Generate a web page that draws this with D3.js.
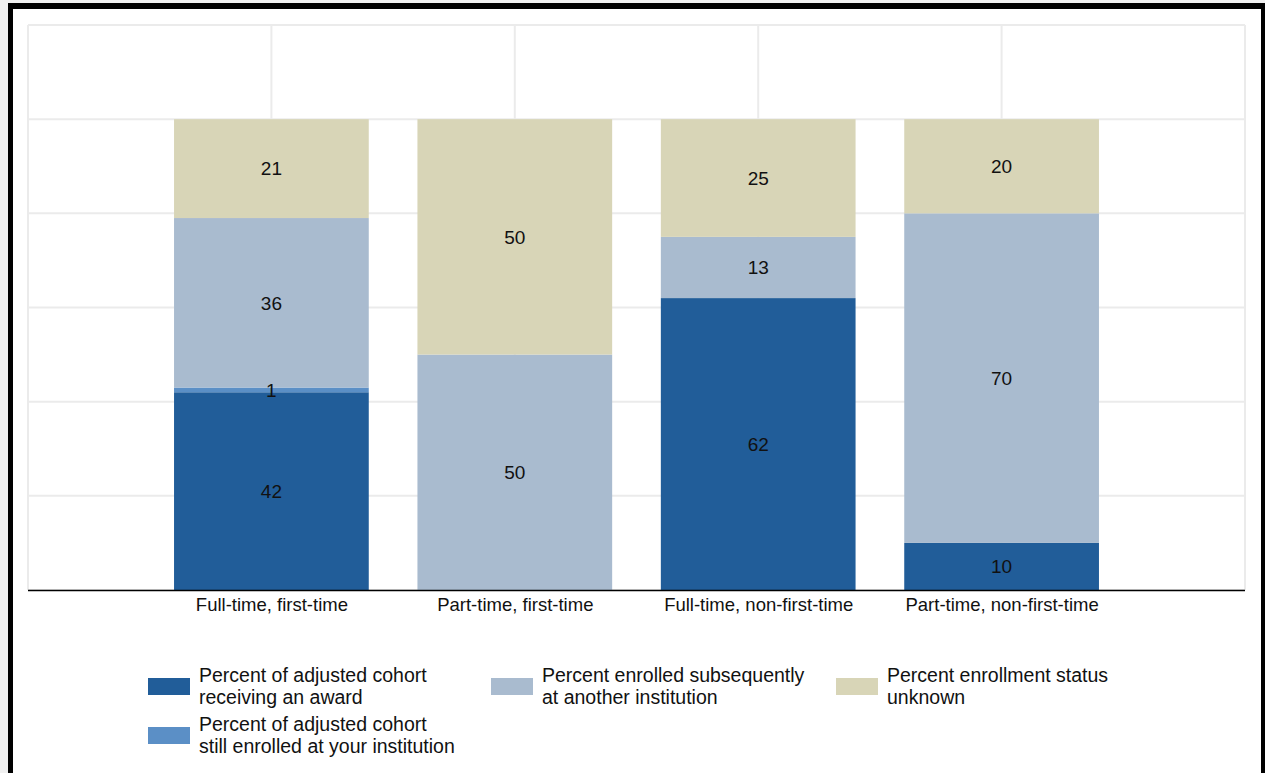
<!DOCTYPE html>
<html>
<head>
<meta charset="utf-8">
<script src="https://cdn.jsdelivr.net/npm/d3@7"></script>
<style>
  html, body {margin: 0; padding: 0; background: #f0f0f0;}
  svg {display: block;}
  text {font-family: "Liberation Sans", Arial, sans-serif; fill: #111;}
</style>
</head>
<body>
<script>
const categories = ['Full-time, first-time', 'Part-time, first-time', 'Full-time, non-first-time', 'Part-time, non-first-time']
const award = [42, 0, 62, 10]
const stillEnrolled = [1, 0, 0, 0]
const otherInst = [36, 50, 13, 70]
const unknown = [21, 50, 25, 20]
const seriesNames = [
  ['Percent of adjusted cohort', 'receiving an award'],
  ['Percent of adjusted cohort', 'still enrolled at your institution'],
  ['Percent enrolled subsequently', 'at another institution'],
  ['Percent enrollment status', 'unknown']
]
const colors = ['#215d99', '#5b8fc6', '#a9bbcf', '#d8d5b7']

const svgWidth = 1265
const svgHeight = 773
const svg = d3.select('body').append('svg')
  .attr('width', svgWidth).attr('height', svgHeight)

// 黑色外框
svg.append('rect').attr('x', 8).attr('y', 3).attr('width', 1257).attr('height', 780).attr('fill', '#000')
svg.append('rect').attr('x', 13).attr('y', 9).attr('width', 1248).attr('height', 780).attr('fill', '#fff')

const plot = {left: 28, right: 1245, top: 25, bottom: 590}

const table = categories.map((c, i) => ({
  cat: c, s0: award[i], s1: stillEnrolled[i], s2: otherInst[i], s3: unknown[i]
}))
const keys = ['s0', 's1', 's2', 's3']
const stacked = d3.stack().keys(keys)(table)

const x = d3.scalePoint().domain(categories).range([plot.left, plot.right]).padding(1)
const y = d3.scaleLinear().domain([0, 120]).range([plot.bottom, plot.top])
const barW = x.step() * 0.8

// 网格线
const grid = svg.append('g')
grid.selectAll('.hg').data(y.ticks(6)).enter().append('line')
  .attr('x1', plot.left).attr('x2', plot.right)
  .attr('y1', d => y(d)).attr('y2', d => y(d))
  .attr('stroke', '#ebebeb').attr('stroke-width', 2)
const vx = [plot.left].concat(categories.map(c => x(c))).concat([plot.right])
grid.selectAll('.vg').data(vx).enter().append('line')
  .attr('x1', d => d).attr('x2', d => d)
  .attr('y1', plot.top).attr('y2', plot.bottom)
  .attr('stroke', '#ebebeb').attr('stroke-width', 2)

// 柱子
const layers = svg.append('g').selectAll('g').data(stacked).enter().append('g')
  .attr('fill', (d, i) => colors[i])
layers.selectAll('rect').data(d => d).enter().append('rect')
  .attr('x', d => x(d.data.cat) - barW / 2)
  .attr('width', barW)
  .attr('y', d => y(d[1]))
  .attr('height', d => y(d[0]) - y(d[1]))

// 数值标签
const labels = svg.append('g')
stacked.forEach(layer => {
  layer.forEach(d => {
    const v = d[1] - d[0]
    if (v <= 0) return
    labels.append('text')
      .attr('x', x(d.data.cat))
      .attr('y', (y(d[0]) + y(d[1])) / 2)
      .attr('dy', '0.36em')
      .attr('text-anchor', 'middle')
      .attr('font-size', 19)
      .text(v)
  })
})

// x轴
const xAxis = svg.append('g').attr('transform', `translate(0, ${plot.bottom})`)
  .call(d3.axisBottom(x).tickSize(0).tickPadding(8))
xAxis.select('.domain').remove()
xAxis.selectAll('text').attr('font-size', 18.5).attr('font-family', '"Liberation Sans", Arial, sans-serif').attr('fill', '#111')
svg.append('line').attr('x1', plot.left).attr('x2', plot.right)
  .attr('y1', plot.bottom + 0.5).attr('y2', plot.bottom + 0.5)
  .attr('stroke', '#000').attr('stroke-width', 1.5)

// 图例
const legendPos = [[148, 678], [148, 727], [491, 678], [836, 678]]
const legend = svg.append('g')
seriesNames.forEach((lines, i) => {
  const [lx, ly] = legendPos[i]
  legend.append('rect').attr('x', lx).attr('y', ly).attr('width', 42).attr('height', 17).attr('fill', colors[i])
  lines.forEach((t, j) => {
    legend.append('text').attr('x', lx + 51).attr('y', ly + 4 + j * 22)
      .attr('font-size', 19.5).text(t)
  })
})
</script>
</body>
</html>
